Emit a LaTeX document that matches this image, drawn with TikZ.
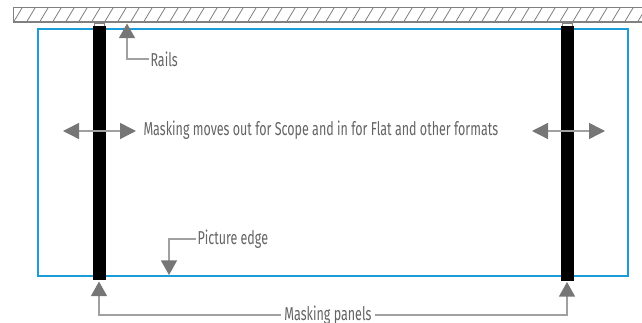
\documentclass[tikz,border=0pt]{standalone}
\usepackage{fontspec}
\setmainfont[FakeStretch=0.67]{Fira Sans}
\usetikzlibrary{arrows.meta}
\definecolor{edgeblue}{RGB}{28,156,214}
\definecolor{tipgray}{RGB}{118,118,118}
\definecolor{leadgray}{RGB}{160,160,160}
\definecolor{labelgray}{RGB}{100,100,100}
\tikzset{every picture/.style={line width=0.75pt}}
\tikzset{
  lbl/.style={inner sep=0.75pt,text=labelgray,font=\fontsize{14}{15}\selectfont},
  lead/.style={draw=leadgray,line width=1.1pt,-{Triangle[length=11pt,width=12pt,color=tipgray]}},
  twoway/.style={draw=leadgray,line width=1.1pt,{Triangle[length=12pt,width=12pt,color=tipgray]}-{Triangle[length=12pt,width=12pt,color=tipgray]}},
  panel/.style={fill=black},
}

\begin{document}
\begin{tikzpicture}[x=0.75pt,y=0.75pt,yscale=-1,xscale=1]
\useasboundingbox (0,0) rectangle (642,323);

%Ceiling with hatch
\begin{scope}
\clip (13,8) rectangle (642,23);
\foreach \x in {0,13,...,650}
  \draw [gray,line width=0.6pt] (\x,23) -- (\x+9,8);
\end{scope}
\draw [gray] (13,8) rectangle (645,23);
\draw [gray,line width=0.5pt] (13,21.5) -- (645,21.5);

%Picture edge
\draw [edgeblue,line width=1.5pt] (38,29) rectangle (628,276);

%Rail hangers
\draw [gray,line width=0.5pt] (94,26) -- (94,23) -- (104,23) -- (104,26);
\draw [gray,line width=0.5pt] (562,26) -- (562,23) -- (572,23) -- (572,26);

%Masking panels
\fill [panel] (92.5,26) rectangle (105.5,280);
\fill [panel] (561,26) rectangle (574,281);

% Text Nodes
\node (rails) [lbl,anchor=west] at (149,59) {Rails};
\node (moves) [lbl,anchor=west] at (142,130) {Masking moves out for Scope and in for Flat and other formats};
\node (edge) [lbl,anchor=west] at (196,239) {Picture edge};
\node (panels) [lbl,fill=white,inner xsep=2pt,inner ysep=0pt] at (328,315) {Masking panels};

% Leaders
\coordinate (railtip) at (127,23.5);
\draw [lead] (rails.west) -| (railtip);

\coordinate (edgetip) at (169,275);
\draw [lead] (edge.west) -| (edgetip);

\coordinate (lefttip) at (99,281.5);
\coordinate (righttip) at (567,282);
\draw [lead] (panels.west) -| (lefttip);
\draw [lead] (panels.east) -| (righttip);

\coordinate (la) at (63,131);
\coordinate (lb) at (136,131);
\coordinate (ra) at (532,131);
\coordinate (rb) at (605,131);
\draw [twoway] (la) -- (lb);
\draw [twoway] (ra) -- (rb);
\end{tikzpicture}
\end{document}
